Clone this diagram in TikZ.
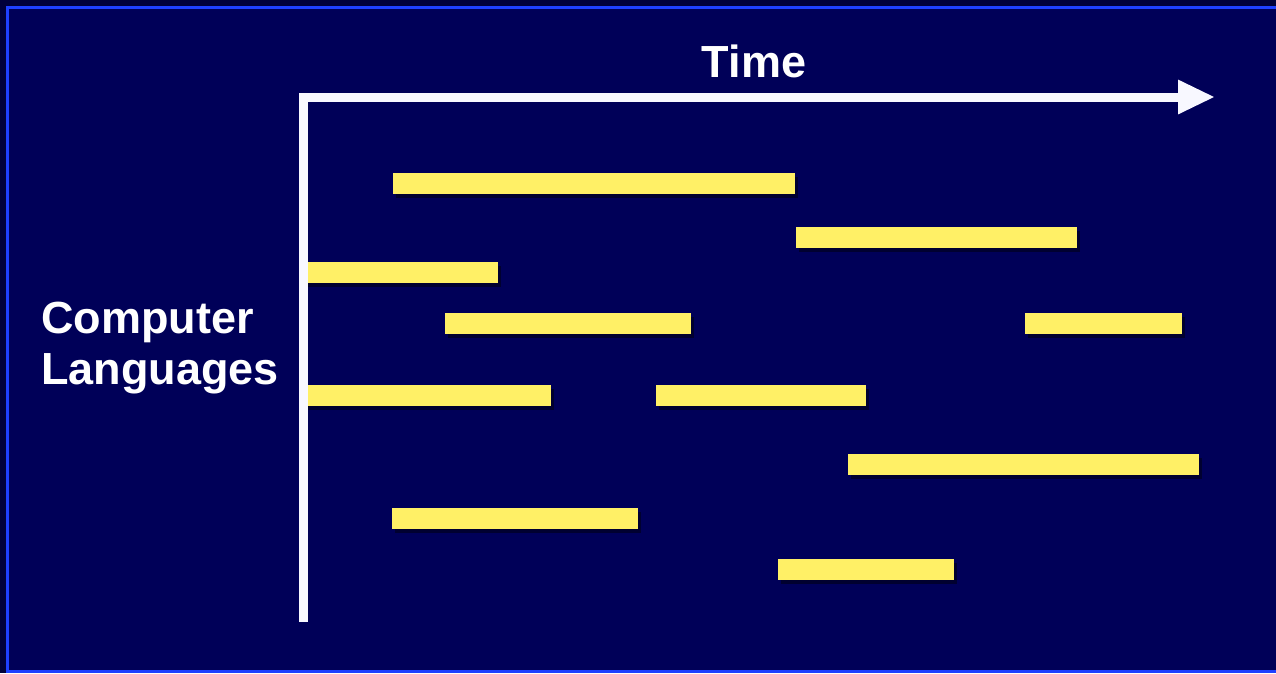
\documentclass[tikz,border=0pt]{standalone}
\usepackage{fontspec}
\setmainfont{Liberation Sans}
\usetikzlibrary{arrows.meta, shadows}
\definecolor{navy}{HTML}{000058}
\definecolor{deepnavy}{HTML}{00003A}
\definecolor{rimblue}{HTML}{1E40FF}
\definecolor{baryellow}{HTML}{FFF066}
\definecolor{axiswhite}{HTML}{F8F8FF}

\tikzset{
  bar/.style={fill=baryellow,
    drop shadow={shadow xshift=3pt, shadow yshift=-4pt, fill=black, opacity=0.45}},
  heading/.style={font=\fontsize{45}{51}\selectfont\bfseries, text=white, inner sep=0pt},
}

\begin{document}
\begin{tikzpicture}[
  x=1pt, y=-1pt,
  >={Triangle[length=37pt, width=32pt]},
]

% Dimensions
\pgfmathsetmacro{\barh}{21}      % bar height

% Background
\useasboundingbox (0,0) rectangle (1276,673);
\fill[deepnavy] (0,0) rectangle (1276,673);
\fill[navy] (7,7) rectangle (1290,671);
\draw[rimblue, line width=3pt] (7,7) rectangle (1290,671);

% --- Bars, top to bottom ---
\fill[bar] (393,173)  rectangle ++(402,\barh);
\fill[bar] (796,227)  rectangle ++(281,\barh);
\fill[bar] (305,262)  rectangle ++(193,\barh);
\fill[bar] (445,313)  rectangle ++(246,\barh);
\fill[bar] (1025,313) rectangle ++(157,\barh);
\fill[bar] (305,385)  rectangle ++(246,\barh);
\fill[bar] (656,385)  rectangle ++(210,\barh);
\fill[bar] (848,454)  rectangle ++(351,\barh);
\fill[bar] (392,508)  rectangle ++(246,\barh);
\fill[bar] (778,559)  rectangle ++(176,\barh);

% --- Axes ---
\coordinate (origin) at (303,97);
\coordinate (timeend) at (1215,97);
\coordinate (langend) at (303,622);
\draw[axiswhite, line width=9pt, line join=miter, ->]
  (langend) -- (origin) -- (timeend);

% --- Axis labels ---
\node[heading, anchor=base] (timelabel) at (754,77) {Time};
\node[heading, anchor=north west, align=left] (langlabel) at (41,302)
  {Computer\\Languages};

\end{tikzpicture}
\end{document}
